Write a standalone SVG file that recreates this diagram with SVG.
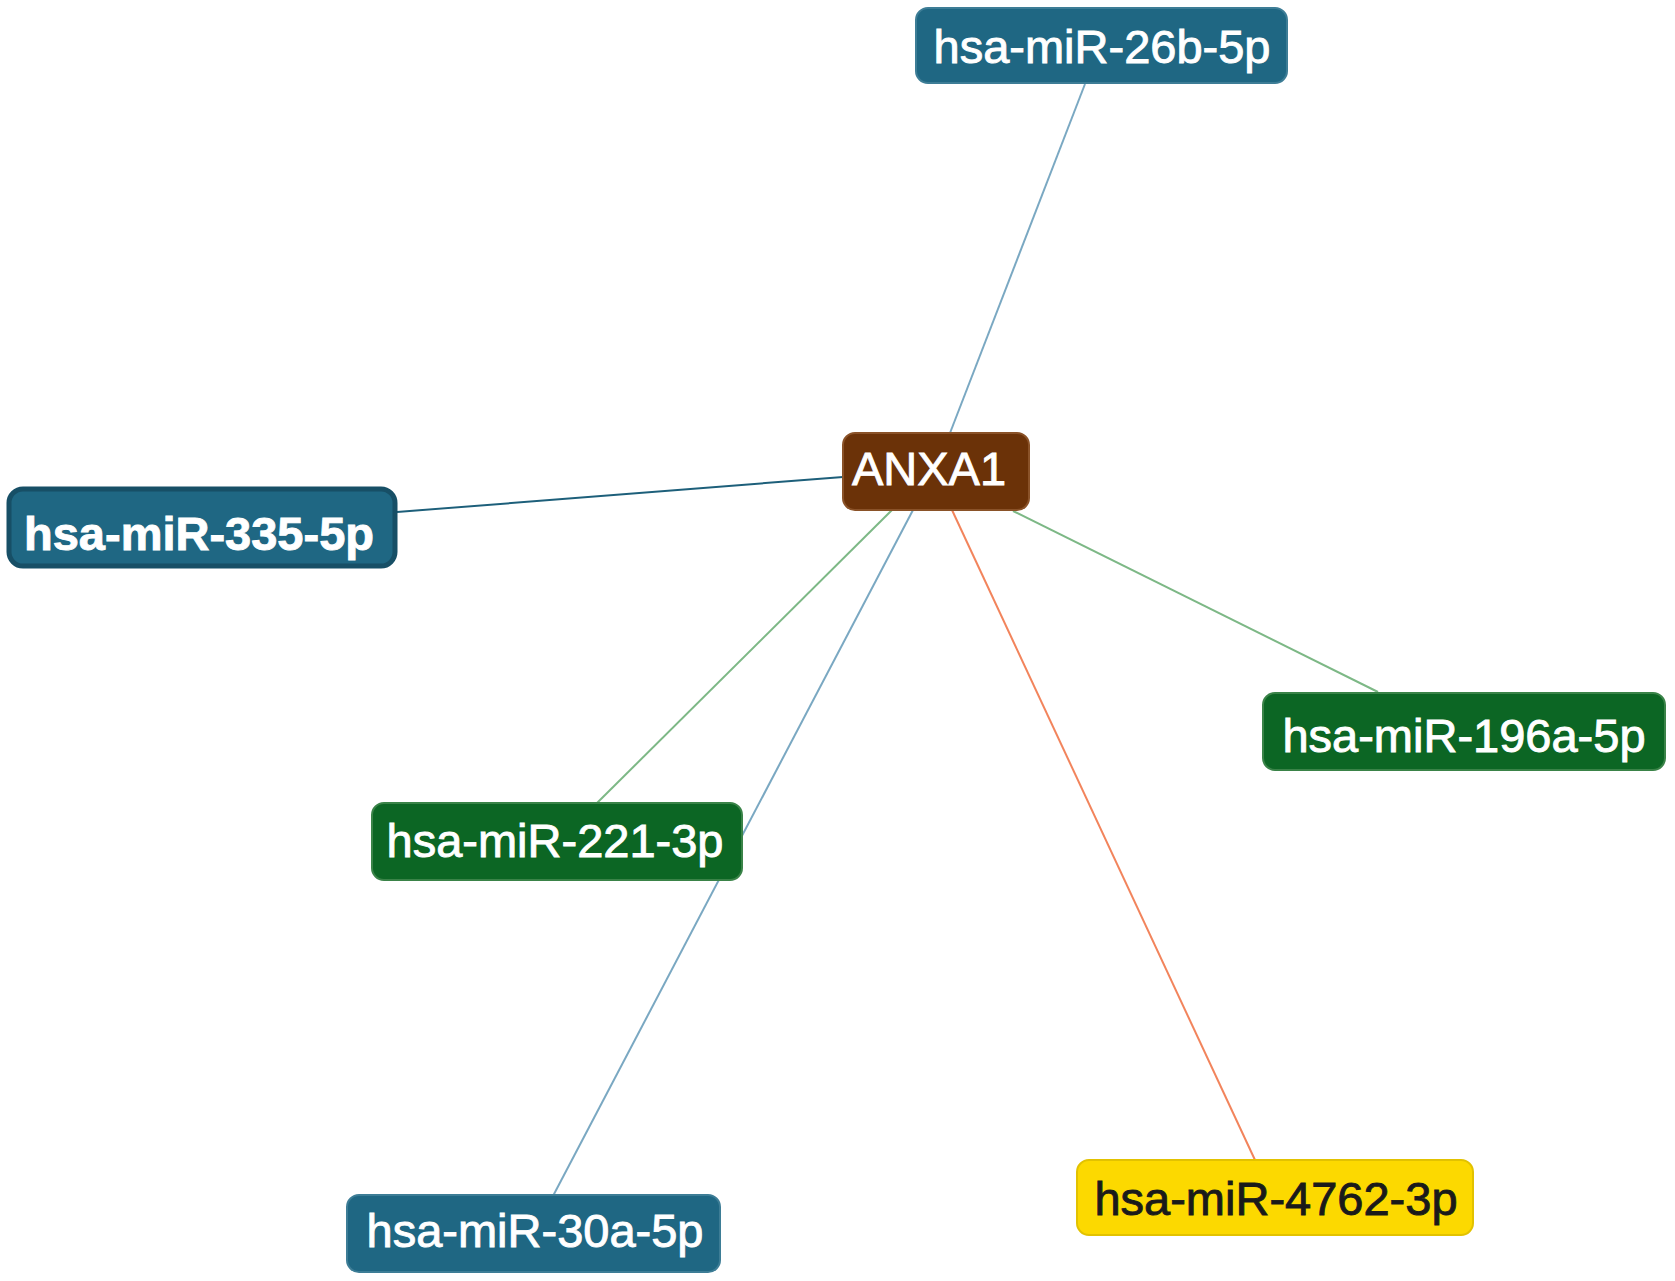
<svg xmlns="http://www.w3.org/2000/svg" width="1675" height="1281" viewBox="0 0 1675 1281">
<style>
.lbl{font-family:"Liberation Sans",Arial,sans-serif;font-size:47px;text-anchor:middle;fill:#ffffff;stroke:#ffffff;stroke-width:0.9}
.blue{fill:#1f6783;stroke:#3d7d96;stroke-width:2}
.green{fill:#0c6624;stroke:#3a8348;stroke-width:2}
.brown{fill:#6b3208;stroke:#8a5228;stroke-width:2}
.yellow{fill:#fcd900;stroke:#e2c200;stroke-width:2}
.e{fill:none;stroke-width:2}
</style>
<rect width="1675" height="1281" fill="#ffffff"/>
<g id="edges">
<line class="e" x1="1085" y1="84" x2="950" y2="433" stroke="#7aa8c2"/>
<line class="e" x1="397" y1="512" x2="843" y2="477" stroke="#1d5f7a" stroke-width="4"/>
<line class="e" x1="597" y1="803" x2="892" y2="510" stroke="#7db886"/>
<line class="e" x1="553" y1="1196" x2="913" y2="510" stroke="#7aa8c2"/>
<line class="e" x1="1255" y1="1160" x2="952" y2="510" stroke="#f2845c"/>
<line class="e" x1="1378" y1="692" x2="1013" y2="511" stroke="#7db886"/>
</g>
<g id="n-26b">
<rect class="blue" x="916" y="8" width="371" height="75" rx="12"/>
<text class="lbl" x="1102" y="63">hsa-miR-26b-5p</text>
</g>
<g id="n-ANXA1">
<rect class="brown" x="843" y="433" width="186" height="77" rx="12"/>
<text class="lbl" x="929" y="485">ANXA1</text>
</g>
<g id="n-335">
<rect x="9" y="489" width="386" height="77" rx="14" fill="#1f6783" stroke="#174f66" stroke-width="5"/>
<text class="lbl" x="199" y="550" font-weight="bold" stroke-width="0">hsa-miR-335-5p</text>
</g>
<g id="n-196a">
<rect class="green" x="1263" y="693" width="402" height="77" rx="12"/>
<text class="lbl" x="1464" y="752">hsa-miR-196a-5p</text>
</g>
<g id="n-221">
<rect class="green" x="372" y="803" width="370" height="77" rx="12"/>
<text class="lbl" x="555" y="857">hsa-miR-221-3p</text>
</g>
<g id="n-30a">
<rect class="blue" x="347" y="1195" width="373" height="77" rx="12"/>
<text class="lbl" x="535" y="1247">hsa-miR-30a-5p</text>
</g>
<g id="n-4762">
<rect class="yellow" x="1077" y="1160" width="396" height="75" rx="12"/>
<text class="lbl" x="1276" y="1215" style="fill:#1a1a1a;stroke:#1a1a1a">hsa-miR-4762-3p</text>
</g>
</svg>
